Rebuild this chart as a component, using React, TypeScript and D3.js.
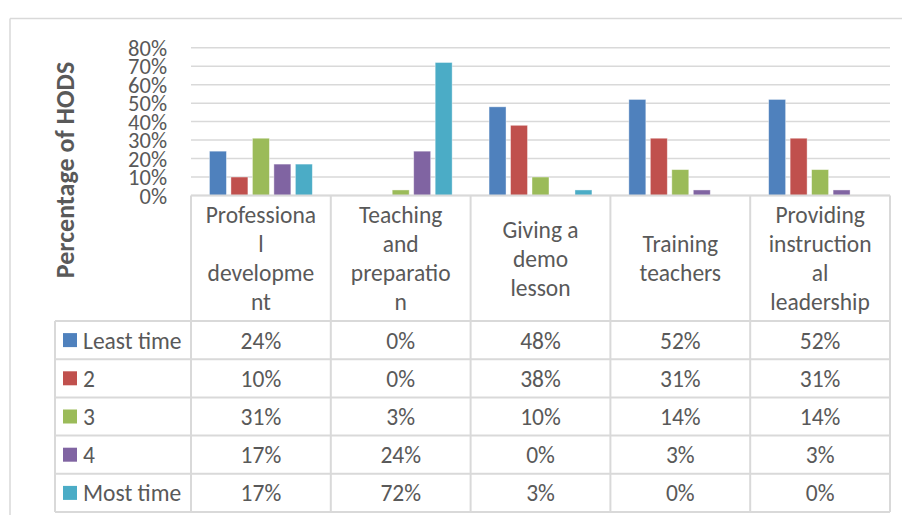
import React from 'react';
import * as d3 from 'd3';

const categories = [
  'Professional development',
  'Teaching and preparation',
  'Giving a demo lesson',
  'Training teachers',
  'Providing instructional leadership',
];
const categoryLines = [
  ['Professiona', 'l', 'developme', 'nt'],
  ['Teaching', 'and', 'preparatio', 'n'],
  ['Giving a', 'demo', 'lesson'],
  ['Training', 'teachers'],
  ['Providing', 'instruction', 'al', 'leadership'],
];
const seriesNames = ['Least time', '2', '3', '4', 'Most time'];
const leastTime = [24, 0, 48, 52, 52];
const two = [10, 0, 38, 31, 31];
const three = [31, 3, 10, 14, 14];
const four = [17, 24, 0, 3, 3];
const mostTime = [17, 72, 3, 0, 0];
const yTicks = [0, 10, 20, 30, 40, 50, 60, 70, 80];
const yTitle = 'Percentage of HODS';

const seriesValues = [leastTime, two, three, four, mostTime];
const colors = ['#4F81BD', '#C0504D', '#9BBB59', '#8064A2', '#4BACC6'];

const W = 902;
const H = 515;
const plotLeft = 191;
const plotRight = 890;
const plotTop = 47.7;
const plotBottom = 195.5;
const headerBottom = 321;
const tableBottom = 512;
const legendLeft = 55;
const grid = '#d9d9d9';
const textColor = '#595959';
const font = 'Carlito, Calibri, Lato, sans-serif';
const tableFont = 23.5;

export default function App() {
  const y = d3.scaleLinear().domain([0, 80]).range([plotBottom, plotTop]);
  const x0 = d3.scaleBand<string>().domain(categories).range([plotLeft, plotRight]);
  const bw = x0.bandwidth();
  const outer = bw * 0.132;
  const x1 = d3
    .scaleBand<string>()
    .domain(seriesNames)
    .range([outer, bw - outer])
    .paddingInner(0.21);
  const rows = d3.scaleBand<string>().domain(seriesNames).range([headerBottom, tableBottom]);
  const lineH = 29;
  const headerMid = (plotBottom + headerBottom) / 2;

  return (
    <svg
      width={W}
      height={H}
      style={{ position: 'absolute', left: 0, top: 0, background: '#fff' }}
      fontFamily={font}
    >
      <rect x={0} y={0} width={W} height={H} fill="#fff" />
      {/* chart border */}
      <line x1={10} x2={W} y1={18.5} y2={18.5} stroke={grid} strokeWidth={1.5} />
      <line x1={10} x2={10} y1={18.5} y2={H} stroke={grid} strokeWidth={1.5} />

      {/* gridlines */}
      {yTicks.map((t) => (
        <line
          key={t}
          x1={plotLeft}
          x2={plotRight}
          y1={y(t)}
          y2={y(t)}
          stroke={grid}
          strokeWidth={1.5}
        />
      ))}
      {/* tick labels */}
      {yTicks.map((t) => (
        <text
          key={'l' + t}
          x={167}
          y={y(t)}
          dy="0.36em"
          textAnchor="end"
          fontSize={22.5}
          fill={textColor}
        >
          {t + '%'}
        </text>
      ))}
      {/* y title */}
      <text
        transform={`translate(65,170) rotate(-90)`}
        dy="0.36em"
        textAnchor="middle"
        fontSize={26}
        fontWeight="bold"
        fill={textColor}
      >
        {yTitle}
      </text>

      {/* bars */}
      {categories.map((c, ci) => (
        <g key={c} transform={`translate(${x0(c)},0)`}>
          {seriesNames.map((s, si) => {
            const v = seriesValues[si][ci];
            if (v <= 0) return null;
            return (
              <rect
                key={s}
                x={x1(s)}
                y={y(v)}
                width={x1.bandwidth()}
                height={y(0) - y(v)}
                fill={colors[si]}
                stroke="#ffffff"
                strokeOpacity={0.5}
                strokeWidth={0.8}
              />
            );
          })}
        </g>
      ))}

      {/* table lines */}
      <line x1={plotLeft} x2={plotRight} y1={plotBottom} y2={plotBottom} stroke={grid} strokeWidth={2} />
      {[...categories.map((c) => x0(c) as number), plotRight].map((xv, i) => (
        <line key={'v' + i} x1={xv} x2={xv} y1={plotBottom} y2={tableBottom} stroke={grid} strokeWidth={2} />
      ))}
      <line x1={legendLeft} x2={legendLeft} y1={headerBottom} y2={tableBottom} stroke={grid} strokeWidth={2} />
      {[...seriesNames.map((s) => rows(s) as number), tableBottom].map((yv, i) => (
        <line key={'h' + i} x1={legendLeft} x2={plotRight} y1={yv} y2={yv} stroke={grid} strokeWidth={2} />
      ))}

      {/* header labels */}
      {categories.map((c, ci) => {
        const lines = categoryLines[ci];
        const start = headerMid - ((lines.length - 1) * lineH) / 2;
        return lines.map((ln, li) => (
          <text
            key={c + li}
            x={(x0(c) as number) + bw / 2}
            y={start + li * lineH}
            dy="0.36em"
            textAnchor="middle"
            fontSize={tableFont}
            fill={textColor}
          >
            {ln}
          </text>
        ));
      })}

      {/* legend column */}
      {seriesNames.map((s, si) => {
        const cy = (rows(s) as number) + rows.bandwidth() / 2;
        return (
          <g key={'lg' + s}>
            <rect x={63} y={cy - 7} width={14} height={14} fill={colors[si]} />
            <text x={83} y={cy} dy="0.36em" fontSize={tableFont} fill={textColor}>
              {s}
            </text>
          </g>
        );
      })}

      {/* values */}
      {seriesNames.map((s, si) => {
        const cy = (rows(s) as number) + rows.bandwidth() / 2;
        return categories.map((c, ci) => (
          <text
            key={s + c}
            x={(x0(c) as number) + bw / 2}
            y={cy}
            dy="0.36em"
            textAnchor="middle"
            fontSize={tableFont}
            fill={textColor}
          >
            {seriesValues[si][ci] + '%'}
          </text>
        ));
      })}
    </svg>
  );
}
